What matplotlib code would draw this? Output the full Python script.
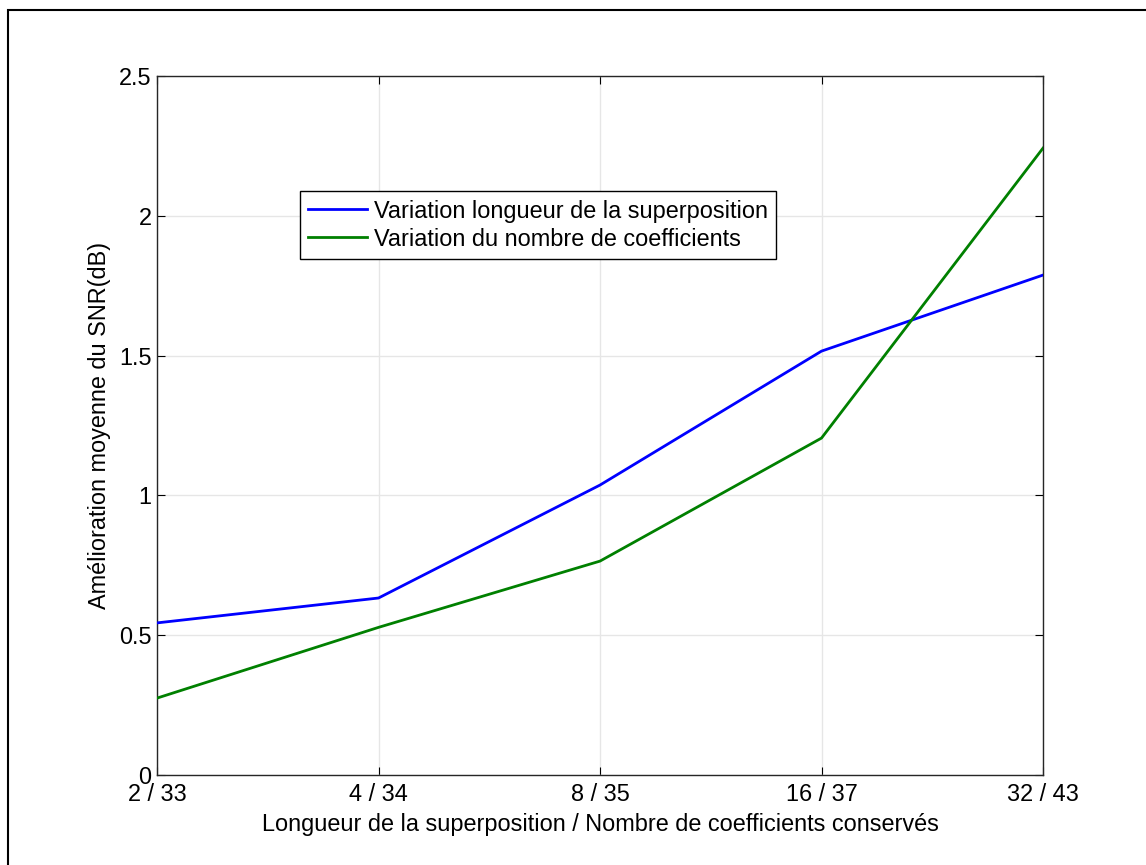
import matplotlib
matplotlib.use("Agg")
import matplotlib.pyplot as plt
from matplotlib.patches import Rectangle

categories = ["2 / 33", "4 / 34", "8 / 35", "16 / 37", "32 / 43"]
overlap_snr = [0.544, 0.633, 1.037, 1.516, 1.788]
coeff_snr = [0.275, 0.528, 0.765, 1.205, 2.242]
yticks = [0, 0.5, 1, 1.5, 2, 2.5]
ytick_labels = ["0", "0.5", "1", "1.5", "2", "2.5"]

plt.rcParams['font.family'] = ['Liberation Sans', 'DejaVu Sans']
fs = 16.9

fig = plt.figure(figsize=(11.46, 8.65), dpi=100)
fig.patches.append(Rectangle((8/1146, -0.1), 1.2, 1 - 10/865 + 0.1, transform=fig.transFigure,
                             fill=False, edgecolor='black', linewidth=1.5))
ax = fig.add_axes([157/1146, 1 - 775/865, (1043 - 157)/1146, (775 - 76)/865])

x = list(range(len(categories)))
ax.plot(x, overlap_snr, color='#0000ff', linewidth=2.0, label='Variation longueur de la superposition', zorder=3)
ax.plot(x, coeff_snr, color='#008000', linewidth=2.0, label='Variation du nombre de coefficients', zorder=3)

ax.set_xlim(0, 4)
ax.set_ylim(0, 2.5)
ax.set_xticks(x)
ax.set_xticklabels(categories, fontsize=fs)
ax.set_yticks(yticks)
ax.set_yticklabels(ytick_labels, fontsize=fs)
ax.tick_params(direction='in', length=6, width=0.8, top=True, right=True, pad=5.5)
ax.tick_params(axis='y', pad=4)
ax.grid(True, color='#e6e6e6', linewidth=1, linestyle='-')
ax.set_axisbelow(True)
for s in ax.spines.values():
    s.set_linewidth(1.0)
    s.set_color('#262626')

ax.set_xlabel('Longueur de la superposition / Nombre de coefficients conservés', fontsize=fs, labelpad=5)
ax.set_ylabel('Amélioration moyenne du SNR(dB)', fontsize=fs, labelpad=6)

leg = ax.legend(loc='upper left', bbox_to_anchor=(0.161, 0.835), fontsize=fs, frameon=True,
                fancybox=False, framealpha=1, edgecolor='black', handlelength=2.5,
                handletextpad=0.3, borderaxespad=0, borderpad=0.35, labelspacing=0.22)
leg.get_frame().set_linewidth(1.0)

fig.savefig('out.png', dpi=100)
